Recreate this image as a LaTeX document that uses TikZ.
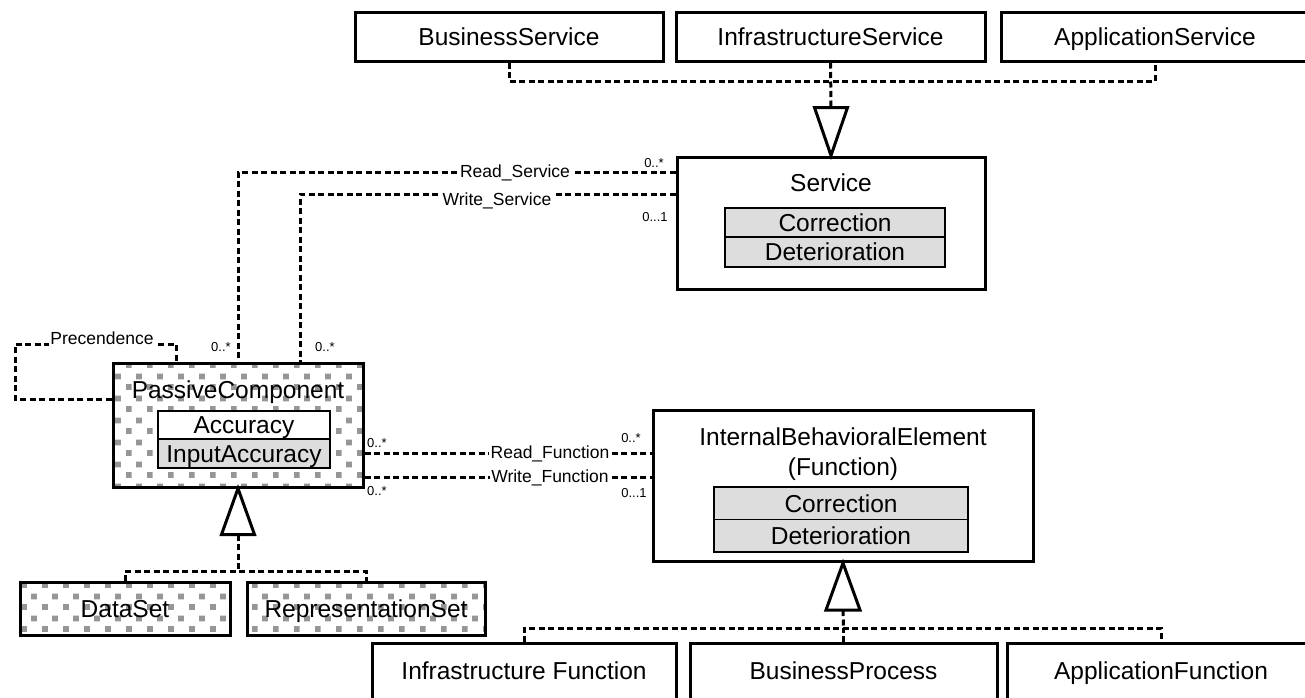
\documentclass[tikz,border=0pt]{standalone}
\usepackage{fontspec}
\setmainfont{Liberation Sans}
\usetikzlibrary{patterns}
\pgfdeclarepatternformonly{pcdots}{\pgfpointorigin}{\pgfpoint{21pt}{22pt}}{\pgfpoint{21pt}{22pt}}{%
  \pgfpathrectangle{\pgfpoint{0pt}{0pt}}{\pgfpoint{6pt}{6pt}}%
  \pgfpathrectangle{\pgfpoint{10.5pt}{11pt}}{\pgfpoint{6pt}{6pt}}%
  \pgfusepath{fill}}
\definecolor{rowgray}{RGB}{221,221,221}
\definecolor{dotgray}{RGB}{150,150,150}
\tikzset{
  box/.style={draw, line width=3pt, fill=white, inner sep=0pt},
  dotbox/.style={draw, line width=3pt, pattern=pcdots, pattern color=dotgray, inner sep=0pt},
  row/.style={draw, line width=1.6pt, inner sep=0pt, text height=17.5pt, text depth=0pt, font=\fontsize{24.5}{28}\selectfont},
  txt/.style={inner sep=0pt, text height=17.5pt, text depth=0pt, font=\fontsize{24.5}{28}\selectfont},
  lab/.style={fill=white, inner sep=1.5pt, text height=12.5pt, text depth=3.5pt, font=\fontsize{17.5}{20}\selectfont},
  mult/.style={inner sep=0pt, text height=9pt, text depth=0pt, font=\fontsize{13}{15}\selectfont},
  assoc/.style={line width=3pt, dash pattern=on 6pt off 3.5pt},
  gen/.style={line width=3pt, fill=white, line join=miter}
}
\begin{document}
\begin{tikzpicture}[x=1pt, y=-1pt]
\clip (0,0) rectangle (1305,697);
\fill[white] (0,0) rectangle (1305,697);

% top service boxes
\node[box, minimum width=308, minimum height=49] (bs) at (509,36.5) {};
\node[txt] (bst) at (509,37) {BusinessService};
\node[box, minimum width=309, minimum height=49] (is) at (830.5,36.5) {};
\node[txt] (ist) at (830.5,37) {InfrastructureService};
\node[box, minimum width=308, minimum height=49] (as) at (1155,36.5) {};
\node[txt] (ast) at (1155,37) {ApplicationService};

% Service
\node[box, minimum width=308, minimum height=132] (svc) at (831,223) {};
\node[txt] (svct) at (831,183) {Service};
\node[row, fill=rowgray, minimum width=220, minimum height=29.5] (svc1) at (835,222.5) {Correction};
\node[row, fill=rowgray, minimum width=220, minimum height=29.5] (svc2) at (835,252) {Deterioration};

% PassiveComponent
\node[dotbox, minimum width=250, minimum height=124] (pc) at (238,425) {};
\node[txt] (pct) at (238,390) {PassiveComponent};
\node[row, fill=white, minimum width=172, minimum height=28] (pc1) at (244,425) {Accuracy};
\node[row, fill=rowgray, minimum width=172, minimum height=29] (pc2) at (244,453.5) {InputAccuracy};

% DataSet / RepresentationSet
\node[dotbox, minimum width=210, minimum height=53] (ds) at (125,608.5) {};
\node[txt] (dst) at (125,608.5) {DataSet};
\node[dotbox, minimum width=238, minimum height=53] (rs) at (366,608.5) {};
\node[txt] (rst) at (366,608.5) {RepresentationSet};

% InternalBehavioralElement
\node[box, minimum width=380, minimum height=151] (ibe) at (843,486) {};
\node[txt] (ibet1) at (843,437) {InternalBehavioralElement};
\node[txt] (ibet2) at (843,467) {(Function)};
\node[row, fill=rowgray, minimum width=254, minimum height=32.5] (ibe1) at (841,503.25) {Correction};
\node[row, fill=rowgray, minimum width=254, minimum height=32.5] (ibe2) at (841,535.75) {Deterioration};

% bottom function boxes
\node[box, anchor=north, minimum width=304, minimum height=80] (nif) at (524,642) {};
\node[txt] (nift) at (524,671) {Infrastructure Function};
\node[box, anchor=north, minimum width=307, minimum height=80] (nbp) at (843.5,642) {};
\node[txt] (nbpt) at (843.5,671) {BusinessProcess};
\node[box, anchor=north, minimum width=308, minimum height=80] (naf) at (1161,642) {};
\node[txt] (naft) at (1161,671) {ApplicationFunction};

% generalization: services
\coordinate (gt) at (831,81);
\draw[assoc] (bs.south) |- (gt) -| (as.south);
\draw[assoc] (is.south) -- ([yshift=48pt]svc.north);
\draw[gen] (svc.north) -- ++(-16.5,-48) -- ++(33,0) -- cycle;

% generalization: passive component
\coordinate (gpc) at (238,571);
\draw[assoc] ([yshift=-46pt]pc.south) -- (gpc);
\draw[assoc] (ds.north) |- (gpc) -| (rs.north);
\draw[gen] (pc.south) -- ++(-16.5,46) -- ++(33,0) -- cycle;

% generalization: functions
\coordinate (gib) at (843.5,628);
\draw[assoc] ([yshift=-47pt]ibe.south) -- (gib);
\draw[assoc] (nif.north) |- (gib) -| (naf.north);
\draw[assoc] (nbp.north) -- (nbp.north |- gib);
\draw[gen] (ibe.south) -- ++(-17,47) -- ++(34,0) -- cycle;

% Precendence
\coordinate (prc1) at (15,399);
\coordinate (prc2) at (176,344);
\draw[assoc] (pc.west |- prc1) -- (prc1) |- (prc2) -- (pc.north -| prc2);
\node[lab] (prcl) at (102,340) {Precendence};

% Read_Service / Write_Service
\coordinate (rsc) at (238,172);
\draw[assoc] (svc.west |- rsc) -- (rsc) -- (pc.north -| rsc);
\node[lab] (rsl) at (515,173) {Read\_Service};
\coordinate (wsc) at (300,194);
\draw[assoc] (svc.west |- wsc) -- (wsc) -- (pc.north -| wsc);
\node[lab, anchor=north] (wsl) at (497,191) {Write\_Service};

% Read_Function / Write_Function
\coordinate (rfc) at (500,453);
\draw[assoc] (pc.east |- rfc) -- (ibe.west |- rfc);
\node[lab] (rfl) at (550,454) {Read\_Function};
\coordinate (wfc) at (500,477);
\draw[assoc] (pc.east |- wfc) -- (ibe.west |- wfc);
\node[lab] (wfl) at (550,478) {Write\_Function};

% multiplicities
\node[mult] (m1) at (654,163) {0..*};
\node[mult] (m2) at (655,217) {0...1};
\node[mult] (m3) at (221,347) {0..*};
\node[mult] (m4) at (325,347) {0..*};
\node[mult] (m5) at (377,443) {0..*};
\node[mult] (m6) at (377,491) {0..*};
\node[mult] (m7) at (631,438) {0..*};
\node[mult] (m8) at (634,493) {0...1};
\end{tikzpicture}
\end{document}
